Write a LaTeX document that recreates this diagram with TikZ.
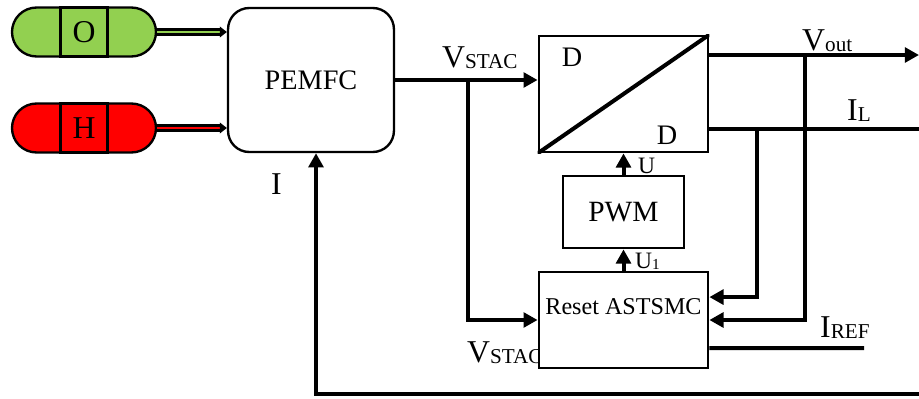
\documentclass[tikz,border=0pt]{standalone}
\usepackage{fontspec}
\setmainfont{Liberation Serif}
\usetikzlibrary{arrows.meta,positioning,shapes.misc}
\definecolor{GasGreen}{HTML}{92D050}
\definecolor{GasRed}{HTML}{FF0000}
\newcommand{\sig}[2]{#1\raisebox{-1.5pt}{\fontsize{18}{18}\selectfont #2}}
\tikzset{
  block/.style={
    draw=black,
    line width=2.4pt,
    fill=white,
    inner sep=0pt,
    align=center
  },
  tank/.style={rounded rectangle,draw=black,line width=2pt,minimum width=122.4pt,minimum height=41.6pt,inner sep=0pt},
  tankcell/.style={draw=black,line width=2pt,minimum width=40pt,minimum height=41.6pt,inner sep=0pt,font=\fontsize{27}{27}\selectfont},
  wire/.style={draw=black,line width=3.4pt},
  arrow/.style={wire,-{Triangle[length=12pt,width=12.5pt]}},
  gaspipe/.style={draw=black,line width=1.8pt,double=#1,double distance=2.4pt,-{Triangle[length=6pt,width=9pt]}},
  sign/.style={inner sep=0pt,anchor=base west,font=\fontsize{27}{27}\selectfont}
}

\begin{document}
\begin{tikzpicture}[x=.85pt,y=-.85pt]
  \useasboundingbox (0,0) rectangle (919,398);

  % Gas tanks.
  \node[tank,fill=GasGreen] (oxytank) at (84,32) {};
  \node[tankcell] (oxy) at (oxytank) {\raisebox{-4pt}{O}};
  \node[tank,fill=GasRed] (hydtank) at (84,128) {};
  \node[tankcell] (hyd) at (hydtank) {H};

  % Fuel cell, converter and control blocks.
  \node[block,rounded corners=18pt,line width=2pt,minimum width=141pt,minimum height=122.4pt,font=\fontsize{24}{24}\selectfont] (pemfc) at (311,80) {PEMFC};
  \node[block,minimum width=143.6pt,minimum height=98.6pt] (dc) at (623.5,94) {};
  \begin{scope}
    \clip (dc.south west) rectangle (dc.north east);
    \draw[line width=3.4pt] (dc.south west) -- (dc.north east);
  \end{scope}
  \node[font=\fontsize{24}{24}\selectfont] (dcin) at (572,57) {D};
  \node[font=\fontsize{24}{24}\selectfont] (dcout) at (667,135) {D};
  \node[block,minimum width=102.8pt,minimum height=61.2pt,font=\fontsize{25}{25}\selectfont] (pwm) at (623.5,212) {PWM};
  \node[sign] (vstaclow) at (467,362) {\sig{V}{STAC}};
  \node[block,minimum width=143.6pt,minimum height=81.6pt] (astsmc) at (623.5,320) {};
  \node[font=\fontsize{20.5}{20.5}\selectfont] (astsmcname) at (623.5,307) {Reset ASTSMC};

  % Gas feeds.
  \draw[gaspipe=GasGreen] (oxytank.east) -- (pemfc.west |- oxytank.east);
  \draw[gaspipe=GasRed] (hydtank.east) -- (pemfc.west |- hydtank.east);

  % Stack voltage.
  \coordinate (vsplit) at (468,80);
  \draw[arrow] (pemfc.east) -- (dc.west |- pemfc.east);
  \draw[arrow] (vsplit) |- (astsmc.west);

  % Converter outputs and measurements.
  \coordinate (vtap) at (805,55);
  \coordinate (voutend) at (919,55);
  \coordinate (itap) at (757,129);
  \coordinate (ilend) at (919,129);
  \draw[arrow] (dc.east |- vtap) -- (voutend);
  \draw[wire] (dc.east |- itap) -- (ilend);
  \draw[arrow] (vtap) |- (astsmc.east);
  \draw[arrow] (itap) |- ([yshift=19.5pt]astsmc.east);
  \coordinate (irefend) at (864,348);
  \draw[wire] ([yshift=-23.8pt]astsmc.east) -- (irefend);

  % Control signals.
  \draw[arrow] (astsmc.north) -- (pwm.south);
  \draw[arrow] (pwm.north) -- (dc.south);

  % Current feedback.
  \coordinate (fbstart) at (919,394);
  \coordinate (fbturn) at (316,394);
  \draw[arrow] (fbstart) -- (fbturn) -- (fbturn |- pemfc.south);

  % Labels.
  \node[sign] (vstacup) at (442,67) {\sig{V}{STAC}};
  \node[sign] (voutlbl) at (802,50) {\sig{V}{out}};
  \node[sign] (illbl) at (847,120) {\sig{I}{L}};
  \node[sign] (ireflbl) at (820,337) {\sig{I}{REF}};
  \node[sign] (ilbl) at (271,194) {I};
  \node[sign,font=\fontsize{20}{20}\selectfont] (ulbl) at (638,173) {U};
  \node[sign,font=\fontsize{20}{20}\selectfont] (u1lbl) at (635,268) {U\raisebox{-1pt}{\fontsize{13}{13}\selectfont 1}};
\end{tikzpicture}
\end{document}
